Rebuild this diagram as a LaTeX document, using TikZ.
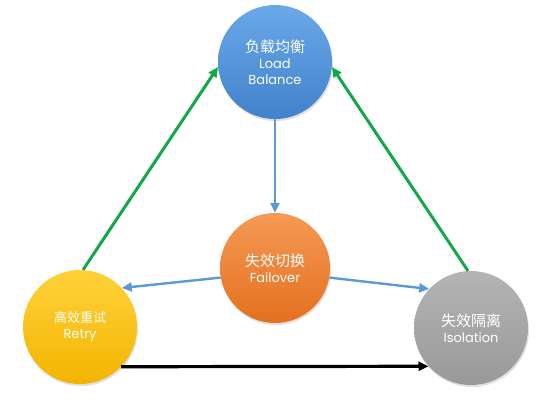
\documentclass[tikz,border=0pt]{standalone}
\usepackage{fontspec}
\setmainfont{Poppins}
\newfontfamily\cjk{Noto Sans CJK SC}
\usetikzlibrary{arrows.meta,shadows}
\definecolor{lbtop}{HTML}{6AA8E8}
\definecolor{lbbot}{HTML}{4282CC}
\definecolor{fotop}{HTML}{F59A55}
\definecolor{fobot}{HTML}{E4701F}
\definecolor{rttop}{HTML}{FFD23A}
\definecolor{rtbot}{HTML}{F4B400}
\definecolor{isotop}{HTML}{B4B4B4}
\definecolor{isobot}{HTML}{999999}
\definecolor{arrowblue}{HTML}{5B9BD5}
\definecolor{arrowgreen}{HTML}{12A84A}
\begin{document}
\begin{tikzpicture}[x=1pt, y=-1pt,
    ball/.style={circle, minimum size=114pt, inner sep=0pt, align=center,
      text=white, font=\fontsize{13}{16}\selectfont,
      drop shadow={opacity=0.25, shadow xshift=1pt, shadow yshift=-2pt}},
    flow/.style={line width=2.4pt, -{Triangle[length=10pt,width=9pt]}}]
  % canvas
  \useasboundingbox (0,0) rectangle (549,404);
  % the four circles
  \node[ball, top color=lbtop, bottom color=lbbot] (lb) at (275,62)
    {{\cjk\fontsize{15}{18}\selectfont 负载均衡}\\Load\\Balance};
  \node[ball, minimum size=110pt, top color=fotop, bottom color=fobot] (fo) at (275,268)
    {{\cjk\fontsize{15}{18}\selectfont 失效切换}\\Failover};
  \node[ball, top color=rttop, bottom color=rtbot] (rt) at (80,327)
    {{\cjk\fontsize{13}{16}\selectfont 高效重试}\\Retry};
  \node[ball, top color=isotop, bottom color=isobot] (iso) at (471,328)
    {{\cjk\fontsize{15}{18}\selectfont 失效隔离}\\Isolation};
  % green arrows up to load balance
  \draw[flow, arrowgreen, line width=3pt] (rt.87) -- (lb.185);
  \draw[flow, arrowgreen, line width=3pt] (iso.93) -- (lb.355);
  % blue arrows
  \draw[flow, arrowblue] (lb.south) -- (fo.north);
  \draw[flow, arrowblue] (fo.190) -- (rt.43);
  \draw[flow, arrowblue] (fo.350) -- (iso.137);
  % black arrow along the bottom
  \draw[flow, black, line width=3.2pt] (rt.-44) -- (iso.222);
\end{tikzpicture}
\end{document}
